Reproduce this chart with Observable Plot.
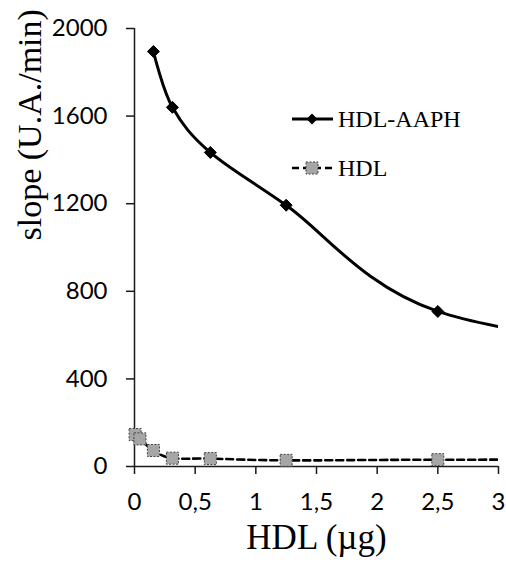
<!DOCTYPE html>
<html>
<head>
<meta charset="utf-8">
<script src="https://cdn.jsdelivr.net/npm/d3@7"></script>
<script src="https://cdn.jsdelivr.net/npm/@observablehq/plot@0.6"></script>
<style>
  html, body { margin: 0; padding: 0; background: #fff; }
  #wrap { position: relative; width: 506px; height: 567px; }
  #legend { position: absolute; left: 0; top: 0; pointer-events: none; }
</style>
</head>
<body>
<div id="wrap"></div>
<script>
// ---- data ----
const seriesNames = ["HDL-AAPH", "HDL"];
// HDL-AAPH (black diamonds, solid smoothed line)
const aaphX = [0.156, 0.3125, 0.625, 1.25, 2.5];
const aaphY = [1895, 1640, 1434, 1193, 708];
// the smoothed line runs on past the right edge (point outside the axis range, estimated from the curve)
const aaphBeyondX = 5;
const aaphBeyondY = 480;
// HDL (grey squares, dashed smoothed line)
const hdlX = [0.005, 0.045, 0.156, 0.3125, 0.625, 1.25, 2.5];
const hdlY = [146, 126, 73, 38, 36, 28, 31];
const hdlBeyondX = 5;
const hdlBeyondY = 31;
// axes
const xTicks = [0, 0.5, 1, 1.5, 2, 2.5, 3];
const yTicks = [0, 400, 800, 1200, 1600, 2000];
const xLabel = "HDL (µg)";
const yLabel = "slope (U.A./min)";

// ---- tables ----
const aaphPts = aaphX.map((x, i) => ({x, y: aaphY[i]}));
const aaphLine = [...aaphPts, {x: aaphBeyondX, y: aaphBeyondY}];
const hdlPts = hdlX.map((x, i) => ({x, y: hdlY[i]}));
const hdlLine = [...hdlPts, {x: hdlBeyondX, y: hdlBeyondY}];

const tickFont = "Lato";
const serif = "Liberation Serif, DejaVu Serif, serif";
const axisColor = "#1a1a1a";

const chart = Plot.plot({
  width: 506,
  height: 567,
  marginLeft: 134,
  marginRight: 8,
  marginTop: 28,
  marginBottom: 101,
  x: {domain: [0, 3]},
  y: {domain: [0, 2000]},
  style: {background: "white", color: "#000", overflow: "visible"},
  marks: [
    Plot.axisX(xTicks, {
      tickSize: 8, tickPadding: 18, stroke: axisColor, strokeWidth: 1.5,
      tickFormat: d => String(d).replace(".", ","),
      fontSize: 24, fontFamily: tickFont, label: null
    }),
    Plot.axisY(yTicks, {
      tickSize: 8, tickPadding: 19, stroke: axisColor, strokeWidth: 1.5,
      tickFormat: d => String(d),
      fontSize: 24, fontFamily: tickFont, label: null
    }),
    Plot.ruleX([0], {y1: 0, y2: 2000, stroke: axisColor, strokeWidth: 1.5}),
    Plot.ruleY([0], {stroke: axisColor, strokeWidth: 1.5}),
    Plot.line(hdlLine, {x: "x", y: "y", curve: "cardinal", clip: true, stroke: "#000", strokeWidth: 2.6, strokeDasharray: "7,4"}),
    Plot.line(aaphLine, {x: "x", y: "y", curve: "cardinal", clip: true, stroke: "#000", strokeWidth: 3}),
    Plot.dot(hdlPts, {x: "x", y: "y", symbol: "square", r: 6.8, fill: "#a6a6a6", stroke: "#404040", strokeWidth: 1, strokeDasharray: "2,1.5"}),
    Plot.dot(aaphPts, {x: "x", y: "y", symbol: "diamond2", r: 5.4, fill: "#000", stroke: "#000", strokeWidth: 1}),
    Plot.text([xLabel], {frameAnchor: "bottom", dy: 82, fontSize: 35, fontFamily: serif, fill: "#000"}),
    Plot.text([yLabel], {frameAnchor: "left", rotate: -90, dx: -104, dy: -7, fontSize: 34, fontFamily: serif, fill: "#000"})
  ]
});

const wrap = document.getElementById("wrap");
wrap.appendChild(chart);

// ---- legend (inside the plot area, top right) ----
const ns = "http://www.w3.org/2000/svg";
const leg = document.createElementNS(ns, "svg");
leg.setAttribute("id", "legend");
leg.setAttribute("width", 506);
leg.setAttribute("height", 567);
const rows = [
  {name: seriesNames[0], cy: 119, dash: null, sw: 3, sym: "diamond"},
  {name: seriesNames[1], cy: 168, dash: "7,4", sw: 2.6, sym: "square"}
];
rows.forEach(r => {
  const line = document.createElementNS(ns, "line");
  line.setAttribute("x1", 292); line.setAttribute("x2", 333);
  line.setAttribute("y1", r.cy); line.setAttribute("y2", r.cy);
  line.setAttribute("stroke", "#000"); line.setAttribute("stroke-width", r.sw);
  if (r.dash) line.setAttribute("stroke-dasharray", r.dash);
  leg.appendChild(line);
  if (r.sym === "diamond") {
    const p = document.createElementNS(ns, "path");
    const cx = 312, cy = r.cy, h = 5.5;
    p.setAttribute("d", `M${cx},${cy-h}L${cx+h},${cy}L${cx},${cy+h}L${cx-h},${cy}Z`);
    p.setAttribute("fill", "#000");
    leg.appendChild(p);
  } else {
    const s = document.createElementNS(ns, "rect");
    s.setAttribute("x", 306); s.setAttribute("y", r.cy - 6);
    s.setAttribute("width", 12); s.setAttribute("height", 12);
    s.setAttribute("fill", "#a6a6a6"); s.setAttribute("stroke", "#404040");
    s.setAttribute("stroke-width", 1); s.setAttribute("stroke-dasharray", "2,1.5");
    leg.appendChild(s);
  }
  const t = document.createElementNS(ns, "text");
  t.setAttribute("x", 338); t.setAttribute("y", r.cy + 8);
  t.setAttribute("font-family", serif);
  t.setAttribute("font-size", 24);
  t.setAttribute("fill", "#000");
  t.textContent = r.name;
  leg.appendChild(t);
});
wrap.appendChild(leg);
</script>
</body>
</html>
